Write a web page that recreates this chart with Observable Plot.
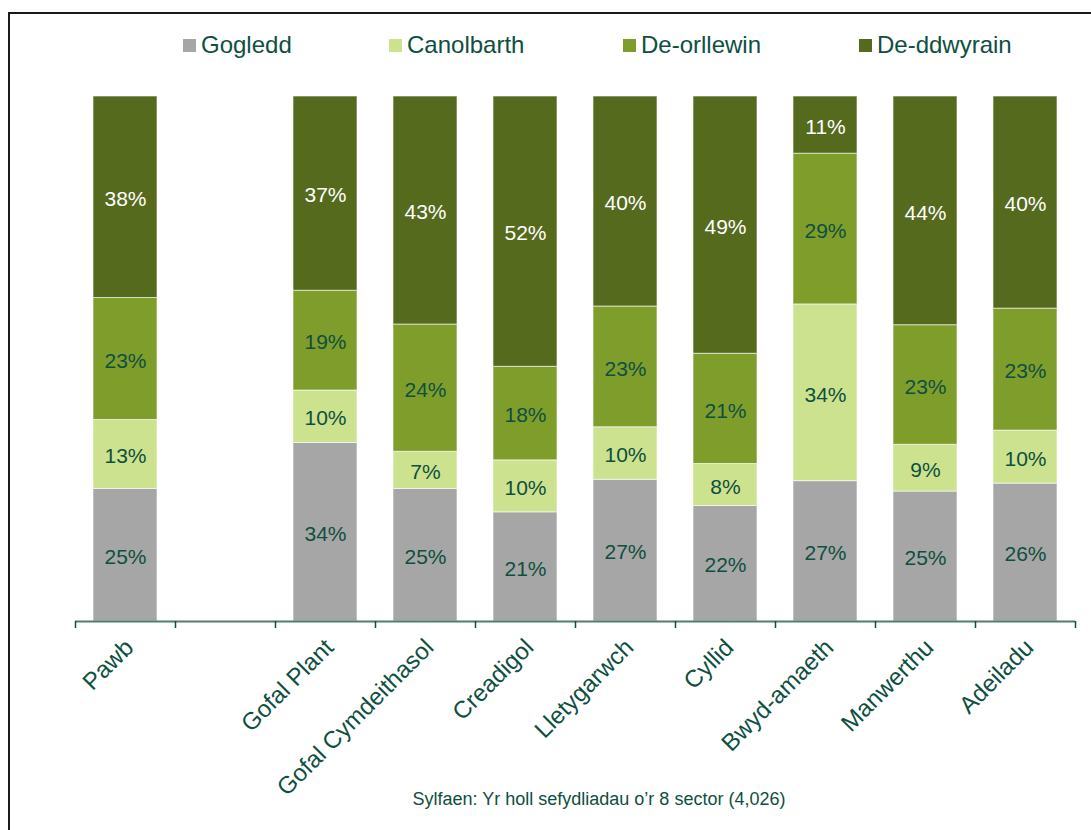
<!DOCTYPE html>
<html>
<head>
<meta charset="utf-8">
<script src="https://cdn.jsdelivr.net/npm/d3@7"></script>
<script src="https://cdn.jsdelivr.net/npm/@observablehq/plot@0.6"></script>
<style>
  html, body { margin: 0; padding: 0; background: #fff; overflow: hidden; }
  body { width: 1091px; height: 830px; position: relative; font-family: "Liberation Sans", Arial, sans-serif; }
  #frame { position: absolute; left: 8px; top: 12px; width: 1100px; height: 840px; border: 2px solid #1a1a1a; box-sizing: border-box; }
  #chart { position: absolute; left: 0; top: 0; }
  .leg { position: absolute; top: 30px; font-size: 24px; color: #0e4f3f; white-space: nowrap; line-height: 30px; }
  .leg span.sw { display: inline-block; width: 13px; height: 13px; margin-right: 5px; vertical-align: 1px; }
  #caption { position: absolute; left: 0; width: 1198px; top: 789px; text-align: center; font-size: 18px; color: #0e4f3f; }
</style>
</head>
<body>
<div id="frame"></div>
<div id="chart"></div>
<div id="legend"></div>
<div id="caption"></div>
<script>
const categories = ["Pawb", "", "Gofal Plant", "Gofal Cymdeithasol", "Creadigol", "Lletygarwch", "Cyllid", "Bwyd-amaeth", "Manwerthu", "Adeiladu"];
const regions = ["Gogledd", "Canolbarth", "De-orllewin", "De-ddwyrain"];
const colors = ["#a6a6a6", "#cce28e", "#7f9d2b", "#566a1e"];
const gogledd    = [25, null, 34, 25, 21, 27, 22, 27, 25, 26];
const canolbarth = [13, null, 10, 7, 10, 10, 8, 34, 9, 10];
const deOrllewin = [23, null, 19, 24, 18, 23, 21, 29, 23, 23];
const deDdwyrain = [38, null, 37, 43, 52, 40, 49, 11, 44, 40];
const captionText = "Sylfaen: Yr holl sefydliadau o’r 8 sector (4,026)";

document.getElementById("caption").textContent = captionText;

const series = [gogledd, canolbarth, deOrllewin, deDdwyrain];
const rows = [];
categories.forEach((c, i) => {
  if (c === "") return;
  regions.forEach((r, j) => rows.push({cat: c, region: r, value: series[j][i]}));
});

// legend
const legendX = [183, 389, 623, 859];
const legend = document.getElementById("legend");
regions.forEach((r, j) => {
  const d = document.createElement("div");
  d.className = "leg";
  d.style.left = legendX[j] + "px";
  d.innerHTML = `<span class="sw" style="background:${colors[j]}"></span>${r}`;
  legend.appendChild(d);
});

const textColor = "#0e4f3f";
const stackOpts = {x: "cat", y: "value", fill: "region", order: regions, offset: "normalize"};

const chart = Plot.plot({
  width: 1091,
  height: 830,
  marginLeft: 75,
  marginRight: 16,
  marginTop: 96,
  marginBottom: 209,
  style: {fontFamily: "Liberation Sans, Arial, sans-serif", background: "transparent"},
  x: {domain: categories, paddingInner: 0.36, paddingOuter: 0.18, label: null},
  y: {domain: [0, 1], axis: null},
  color: {domain: regions, range: colors},
  marks: [
    Plot.barY(rows, Plot.stackY({...stackOpts, stroke: "white", strokeOpacity: 0.6, strokeWidth: 1})),
    Plot.text(rows, Plot.stackY({
      ...stackOpts,
      text: d => d.value + "%",
      fill: d => d.region === "De-ddwyrain" ? "white" : textColor,
      fontSize: 21,
      dy: 2
    })),
    Plot.ruleY([0], {stroke: "#4f7d72", strokeWidth: 2}),
    Plot.ruleX(categories, {x: d => d, y1: 0, y2: 0, dx: -50, insetBottom: -7, stroke: textColor, strokeWidth: 1.5}),
    Plot.ruleX([categories[categories.length - 1]], {x: d => d, y1: 0, y2: 0, dx: 50, insetBottom: -7, stroke: textColor, strokeWidth: 1.5}),
    Plot.axisX({tickSize: 0, tickRotate: -45, tickPadding: 22, fontSize: 24, fill: textColor, label: null, dx: 4})
  ]
});
document.getElementById("chart").appendChild(chart);
</script>
</body>
</html>
